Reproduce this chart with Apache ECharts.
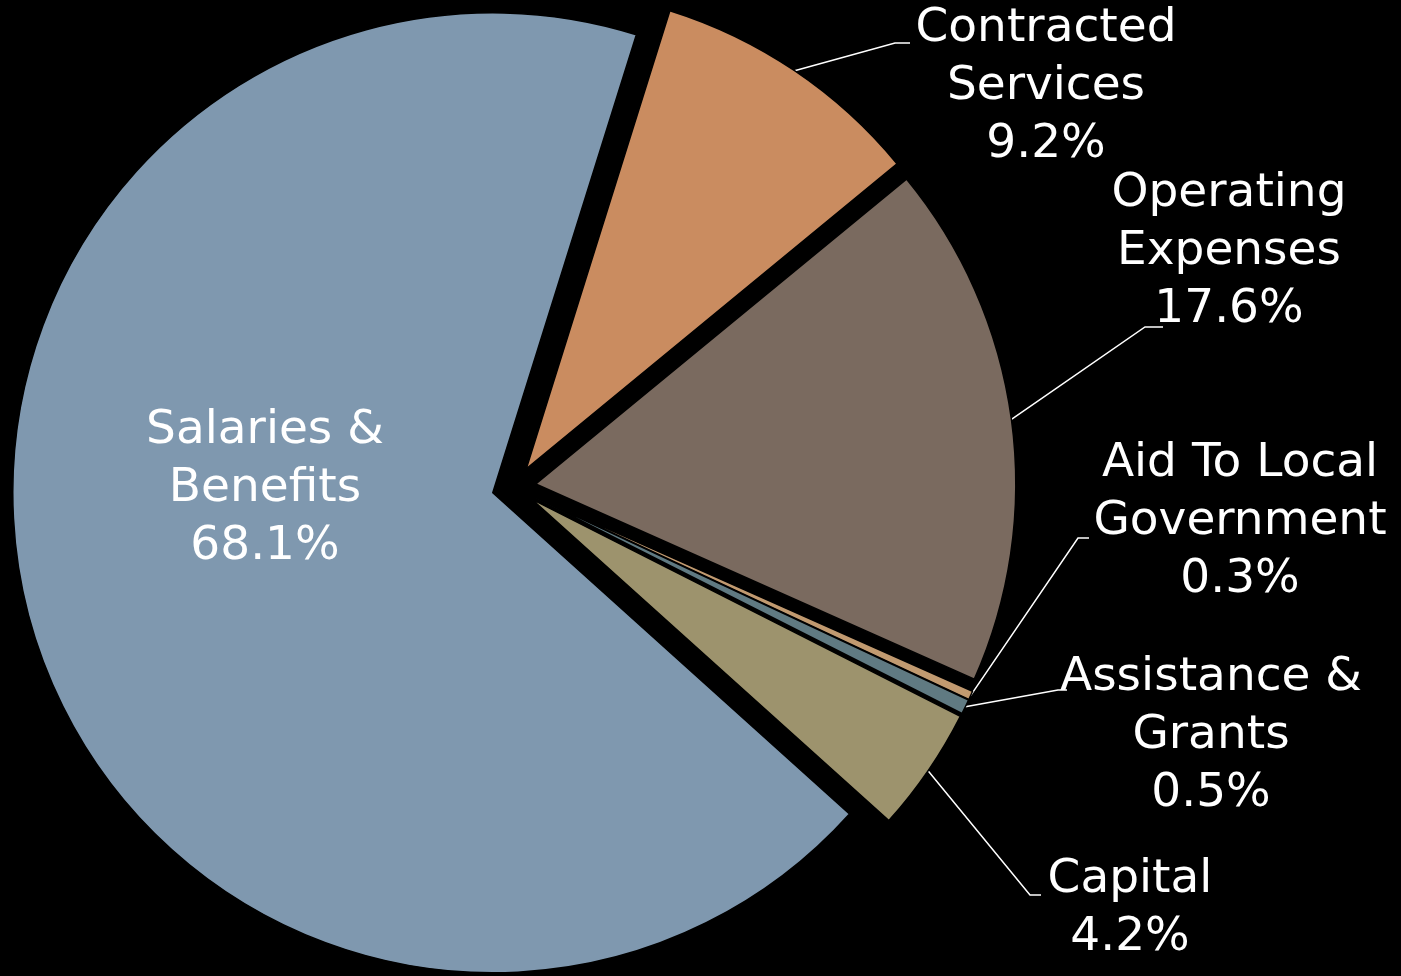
<!DOCTYPE html>
<html>
<head>
<meta charset="utf-8">
<script src="https://cdn.jsdelivr.net/npm/echarts@6/dist/echarts.min.js"></script>
<style>
html,body{margin:0;padding:0;background:#000;}
#chart{width:1401px;height:976px;}
</style>
</head>
<body>
<div id="chart"></div>
<script>
// Data (percent of total)
const categories = ['Salaries &\nBenefits', 'Contracted\nServices', 'Operating\nExpenses', 'Aid To Local\nGovernment', 'Assistance &\nGrants', 'Capital'];
const values = [68.1, 9.2, 17.6, 0.3, 0.5, 4.2];
const colors = ['#7F98AF', '#CA8C60', '#7A6A5F', '#C19A70', '#607A82', '#9D936D'];

// Layout settings
const baseCenter = [514, 487];
const pieRadius = 480;
const startAngle = 318;   // degrees, ECharts convention
const explode = 22;       // px each slice is pulled out

// Label placement (layout only): centre of text block and leader-line bend/end
const labelPlace = [
  { x: 265, y: 489 },
  { x: 1046, y: 87, bend: [895, 43], end: [910, 43] },
  { x: 1229, y: 252, bend: [1145, 327], end: [1163, 327] },
  { x: 1240, y: 522, bend: [1078, 538], end: [1089, 538] },
  { x: 1211, y: 736, bend: [1058, 690], end: [1067, 690] },
  { x: 1130, y: 909, bend: [1030, 895], end: [1041, 895] }
];

const total = values.reduce((a, b) => a + b, 0);
let cum = 0;
const series = values.map((v, k) => {
  const midDeg = startAngle - (cum + v / 2) / total * 360;
  cum += v;
  const a = midDeg * Math.PI / 180;
  const center = [baseCenter[0] + explode * Math.cos(a), baseCenter[1] - explode * Math.sin(a)];
  return {
    type: 'pie',
    silent: true,
    center: center,
    radius: [0, pieRadius],
    startAngle: startAngle,
    clockwise: true,
    avoidLabelOverlap: false,
    emphasis: { disabled: true },
    label: {
      show: true,
      position: k === 0 ? 'inside' : 'outside',
      color: '#fff',
      fontFamily: 'DejaVu Sans',
      fontSize: 47,
      lineHeight: 58,
      formatter: p => p.name + '\n' + p.value.toFixed(1) + '%'
    },
    labelLine: {
      show: k !== 0,
      length: 20,
      length2: 20,
      lineStyle: { color: '#fff', width: 1.5 }
    },
    labelLayout: function (params) {
      if (params.dataIndex !== k) return {};
      const lp = labelPlace[k];
      const res = { x: lp.x, y: lp.y, align: 'center', verticalAlign: 'middle' };
      if (lp.bend && params.labelLinePoints) {
        res.labelLinePoints = [params.labelLinePoints[0], lp.bend, lp.end];
      }
      return res;
    },
    data: categories.map((c, i) => i === k ? {
      name: c,
      value: values[i],
      itemStyle: { color: colors[i], borderColor: '#000', borderWidth: 1.5 }
    } : {
      name: c,
      value: values[i],
      itemStyle: { color: 'rgba(0,0,0,0)', borderWidth: 0 },
      label: { show: false },
      labelLine: { show: false }
    })
  };
});

const chart = echarts.init(document.getElementById('chart'));
chart.setOption({
  backgroundColor: '#000',
  animation: false,
  series: series
});
</script>
</body>
</html>
